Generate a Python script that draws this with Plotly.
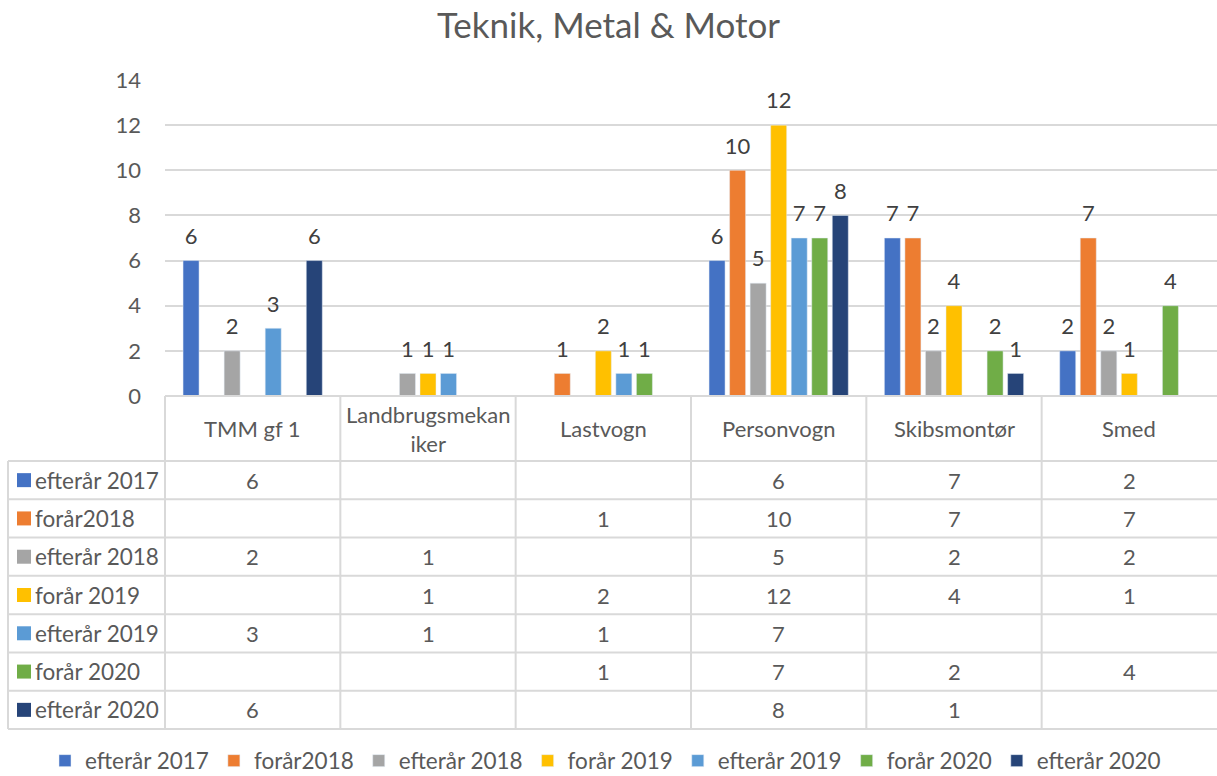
import plotly.graph_objects as go

categories = ["TMM gf 1", "Landbrugsmekaniker", "Lastvogn", "Personvogn", "Skibsmontør", "Smed"]
header_labels = ["TMM gf 1", "Landbrugsmekan<br>iker", "Lastvogn", "Personvogn", "Skibsmontør", "Smed"]
series_names = ["efterår 2017", "forår2018", "efterår 2018", "forår 2019",
                "efterår 2019", "forår 2020", "efterår 2020"]
efteraar_2017 = [6, None, None, 6, 7, 2]
foraar_2018 = [None, None, 1, 10, 7, 7]
efteraar_2018 = [2, 1, None, 5, 2, 2]
foraar_2019 = [None, 1, 2, 12, 4, 1]
efteraar_2019 = [3, 1, 1, 7, None, None]
foraar_2020 = [None, None, 1, 7, 2, 4]
efteraar_2020 = [6, None, None, 8, 1, None]
series_values = [efteraar_2017, foraar_2018, efteraar_2018, foraar_2019,
                 efteraar_2019, foraar_2020, efteraar_2020]
colors = ["#4472C4", "#ED7D31", "#A5A5A5", "#FFC000", "#5B9BD5", "#70AD47", "#264478"]

W, H = 1217, 776
L, R, T, B = 165, 1217, 80, 396
FONT = "Lato"
GRID = "#D9D9D9"
TXT = "#595959"


def px_x(px):
    return (px - L) / (R - L)


def px_y(py):
    return (B - py) / (B - T)


def bar_label(v):
    # small spacer line underneath lifts the label a bit further above the bar
    if v is None:
        return ""
    return f"<span style='font-size:22px'>{v}</span><br>&nbsp;"


fig = go.Figure()
for name, vals, col in zip(series_names, series_values, colors):
    fig.add_trace(go.Bar(
        x=categories, y=vals, name=name, marker_color=col,
        text=[bar_label(v) for v in vals],
        textposition="outside", cliponaxis=False, constraintext="none",
        textfont=dict(size=9, color="#404040", family=FONT),
    ))

# data table below the plot
header_bottom = 461
table_bottom = 729
row_h = (table_bottom - header_bottom) / len(series_names)
left_edge = 8
cell_font = dict(size=22, color=TXT, family=FONT)

shapes = []
line = dict(color=GRID, width=2)
shapes.append(dict(type="line", xref="paper", yref="paper",
                   x0=0, x1=1.01, y0=0, y1=0, line=line))
for i in range(len(series_names) + 1):
    yy = px_y(header_bottom + i * row_h)
    shapes.append(dict(type="line", xref="paper", yref="paper",
                       x0=px_x(left_edge), x1=1.01, y0=yy, y1=yy, line=line))
shapes.append(dict(type="line", xref="paper", yref="paper",
                   x0=px_x(left_edge), x1=px_x(left_edge),
                   y0=px_y(header_bottom), y1=px_y(table_bottom), line=line))
for c in range(len(categories)):
    xx = c / len(categories)
    shapes.append(dict(type="line", xref="paper", yref="paper",
                       x0=xx, x1=xx, y0=0, y1=px_y(table_bottom), line=line))

annotations = []
for cat, lab in zip(categories, header_labels):
    annotations.append(dict(xref="x", yref="paper", x=cat, y=px_y((B + header_bottom) / 2),
                            text=lab, showarrow=False, yanchor="middle",
                            font=cell_font))
for r, (name, vals, col) in enumerate(zip(series_names, series_values, colors)):
    yc = header_bottom + (r + 0.5) * row_h
    shapes.append(dict(type="rect", xref="paper", yref="paper",
                       x0=px_x(17), x1=px_x(31), y0=px_y(yc - 7), y1=px_y(yc + 7),
                       fillcolor=col, line=dict(width=0)))
    annotations.append(dict(xref="paper", yref="paper", x=px_x(33), y=px_y(yc),
                            text=name, showarrow=False, xanchor="left", yanchor="middle",
                            font=dict(size=22.5, color=TXT, family=FONT)))
    for cat, v in zip(categories, vals):
        if v is None:
            continue
        annotations.append(dict(xref="x", yref="paper", x=cat, y=px_y(yc),
                                text=str(v), showarrow=False, yanchor="middle",
                                font=cell_font))

fig.update_layout(
    width=W, height=H,
    margin=dict(l=L, r=W - R, t=T, b=H - B, autoexpand=False),
    paper_bgcolor="white", plot_bgcolor="white",
    title=dict(text="Teknik, Metal & Motor", x=0.5, xanchor="center",
               y=1 - 26 / H, yanchor="middle",
               font=dict(size=35, color=TXT, family=FONT)),
    font=dict(family=FONT, color=TXT),
    barmode="group", bargap=0.18, bargroupgap=0.22,
    xaxis=dict(range=[-0.5, 5.5], showticklabels=False, showgrid=False,
               zeroline=False, showline=False, ticks=""),
    yaxis=dict(range=[0, 14], dtick=2, showgrid=True, gridcolor=GRID, gridwidth=1.5,
               zeroline=False, showline=False, ticks="", ticklabelstandoff=23,
               tickfont=dict(size=22, color=TXT, family=FONT)),
    showlegend=True,
    legend=dict(orientation="h", x=px_x(45), xanchor="left",
                y=px_y(761), yanchor="middle", itemwidth=30,
                font=dict(size=22.5, color=TXT, family=FONT), traceorder="normal"),
    shapes=shapes, annotations=annotations,
)

# the page's default body margin would offset the chart by 8px
fig.write_html("out.html", config={"displayModeBar": False},
               post_script="document.body.style.margin='0';")
